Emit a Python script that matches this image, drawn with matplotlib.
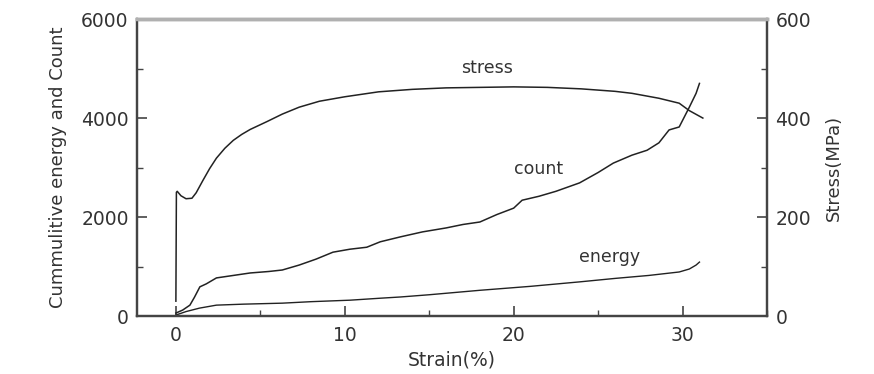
import matplotlib
matplotlib.use("Agg")
import matplotlib.pyplot as plt
from matplotlib.ticker import MultipleLocator

plt.rcParams['font.family'] = ['DejaVu Sans']

# Stress-strain curve (right axis, MPa)
stress_strain = [0.0, 0.03, 0.08, 0.3, 0.6, 0.95, 1.2, 1.6, 2.0, 2.4, 2.9, 3.4, 3.9,
                 4.4, 5.4, 6.3, 7.3, 8.5, 10, 12, 14, 16, 18, 20, 22, 24, 26, 27,
                 28.6, 29.8, 30.4, 31.2]
stress_mpa = [30, 250, 252, 243, 237, 238, 249, 274, 298, 319, 339, 355, 367,
              377, 393, 408, 422, 434, 443, 453, 458, 461, 462, 463, 462, 459, 454,
              450, 440, 430, 415, 400]

# Cumulative acoustic emission count (left axis)
count_strain = [0, 0.4, 0.83, 1.1, 1.42, 1.8, 2.4, 3.0, 4.4, 5.5, 6.3, 7.3, 8.3,
                9.3, 10.3, 11.3, 12.1, 13.3, 14.6, 16, 17, 18, 19, 20, 20.5, 21.5,
                22.5, 23.9, 25, 25.9, 27, 27.9, 28.6, 29.2, 29.8, 30.4, 30.8, 31.0]
count_vals = [60, 120, 220, 380, 590, 650, 770, 800, 870, 900, 930, 1030, 1150,
              1290, 1350, 1390, 1500, 1600, 1700, 1780, 1850, 1900, 2050, 2180, 2340,
              2420, 2520, 2690, 2900, 3090, 3250, 3350, 3500, 3760, 3820, 4220, 4500,
              4700]

# Cumulative acoustic emission energy (left axis)
energy_strain = [0, 0.6, 1.4, 2.4, 4, 6.3, 8, 10.3, 12.1, 13.3, 15, 18, 21, 23.9,
                 26, 28, 29.8, 30.4, 30.8, 31.0]
energy_vals = [20, 90, 160, 220, 240, 260, 290, 320, 360, 385, 430, 520, 600, 690,
               760, 820, 890, 950, 1030, 1090]

x_ticks = [0, 10, 20, 30]
left_ticks = [0, 2000, 4000, 6000]
right_ticks = [0, 200, 400, 600]

line_col = '#222222'
spine_col = '#444444'

fig = plt.figure(figsize=(8.74, 3.74), dpi=100)
ax = fig.add_axes([0.1568, 0.155, 0.7208, 0.794])
ax2 = ax.twinx()

ax.plot(count_strain, count_vals, color=line_col, lw=1.1)
ax.plot(energy_strain, energy_vals, color=line_col, lw=1.0)
ax2.plot(stress_strain, stress_mpa, color=line_col, lw=1.1)

ax.set_xlim(-2.3, 35)
ax.set_ylim(0, 6000)
ax2.set_ylim(0, 600)

ax.set_xticks(x_ticks)
ax.set_yticks(left_ticks)
ax2.set_yticks(right_ticks)
ax.xaxis.set_minor_locator(MultipleLocator(5))
ax.yaxis.set_minor_locator(MultipleLocator(1000))
ax2.yaxis.set_minor_locator(MultipleLocator(100))

for a in (ax, ax2):
    a.tick_params(which='major', direction='in', length=7, width=1.2,
                  color=spine_col, labelsize=13.5, labelcolor='#333333', pad=6)
    a.tick_params(which='minor', direction='in', length=4, width=1.0,
                  color=spine_col)
    for side in ('left', 'right', 'bottom'):
        a.spines[side].set_color(spine_col)
        a.spines[side].set_linewidth(1.6)
    a.spines['top'].set_color('#b0b0b0')
    a.spines['top'].set_linewidth(2.5)
ax.tick_params(axis='x', pad=7)

ax.set_xlabel('Strain(%)', fontsize=13.5, color='#333333', labelpad=4)
ax.set_ylabel('Cummulitive energy and Count', fontsize=13, color='#333333', labelpad=10)
ax2.set_ylabel('Stress(MPa)', fontsize=13, color='#333333', labelpad=10)

ax.text(18.4, 5010, 'stress', fontsize=12.5, color='#333333', ha='center', va='center')
ax.text(21.5, 2970, 'count', fontsize=12.5, color='#333333', ha='center', va='center')
ax.text(25.7, 1190, 'energy', fontsize=12.5, color='#333333', ha='center', va='center')

fig.savefig('out.png', dpi=100)
